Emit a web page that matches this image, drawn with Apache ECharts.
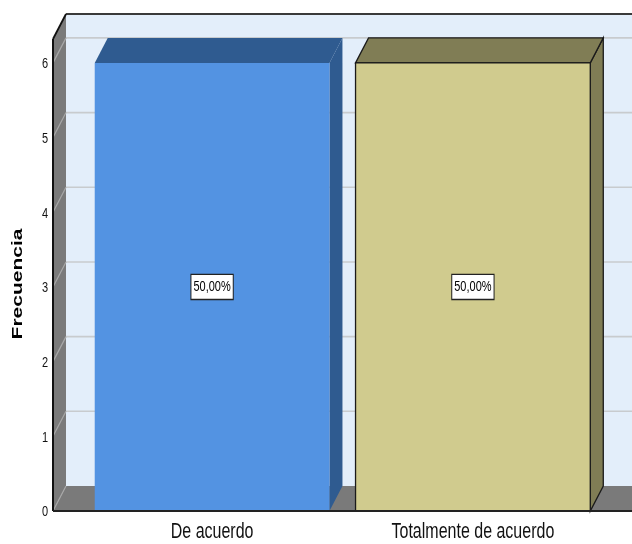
<!DOCTYPE html>
<html>
<head>
<meta charset="utf-8">
<script src="https://cdn.jsdelivr.net/npm/echarts@6/dist/echarts.min.js"></script>
<style>
  html, body { margin: 0; padding: 0; background: #ffffff; }
  #chart { width: 632px; height: 544px; }
</style>
</head>
<body>
<div id="chart"></div>
<script>
// ---- data ----
const categories = ['De acuerdo', 'Totalmente de acuerdo'];
const frequencies = [6, 6];
const percentLabels = ['50,00%', '50,00%'];
const yTicks = [0, 1, 2, 3, 4, 5, 6];
const yTitle = 'Frecuencia';

// ---- style ----
const FONT = '"Liberation Sans", Arial, sans-serif';
const STRETCH = 1.4;          // text is drawn vertically stretched
const DX = 13, DY = 25;       // 3D depth offset in pixels
const BAR_W = 0.9;            // bar width in category units
const frontColors = ['#5393e2', '#d0cb8e'];
const darkColors = ['#2f5b90', '#807d55'];
const outlineColors = ['rgba(0,0,0,0)', '#1a1a1a'];

const chart = echarts.init(document.getElementById('chart'), null, { renderer: 'canvas' });

function wallsRender(params, api) {
  const cs = params.coordSys;
  const L = cs.x, R = cs.x + cs.width + 20, T = cs.y, B = cs.y + cs.height;
  const children = [];
  children.push({ type: 'rect', shape: { x: L + DX, y: T - DY, width: R - L, height: B - T },
    style: { fill: '#e3eefa' } });
  children.push({ type: 'polygon', shape: { points: [[L, B], [L, T], [L + DX, T - DY], [L + DX, B - DY]] },
    style: { fill: '#7a7a7a' } });
  children.push({ type: 'polygon', shape: { points: [[L, B], [L + DX, B - DY], [R + DX, B - DY], [R + DX, B]] },
    style: { fill: '#7a7a7a' } });
  yTicks.forEach(function (v) {
    const y = api.coord([0, v])[1];
    if (v > 0) {
      children.push({ type: 'line', shape: { x1: L + DX, y1: y - DY, x2: R + DX, y2: y - DY },
        style: { stroke: '#c8cbce', lineWidth: 1.6 } });
    }
    children.push({ type: 'line', shape: { x1: L, y1: y, x2: L + DX, y2: y - DY },
      style: { stroke: '#a8a8a8', lineWidth: 1.2 } });
  });
  return { type: 'group', children: children };
}

function frameRender(params, api) {
  const cs = params.coordSys;
  const L = cs.x, R = cs.x + cs.width + 20, T = cs.y, B = cs.y + cs.height;
  return { type: 'group', children: [
    { type: 'line', shape: { x1: L + DX, y1: T - DY, x2: R + DX, y2: T - DY }, style: { stroke: '#3a3a3a', lineWidth: 2 } },
    { type: 'line', shape: { x1: L, y1: T, x2: L + DX, y2: T - DY }, style: { stroke: '#111', lineWidth: 1.8 } },
    { type: 'line', shape: { x1: L, y1: T, x2: L, y2: B }, style: { stroke: '#111', lineWidth: 2 } },
    { type: 'line', shape: { x1: L, y1: B, x2: R, y2: B }, style: { stroke: '#222', lineWidth: 2 } }
  ] };
}

function barRender(params, api) {
  const i = params.dataIndex;
  const x = api.value(0), v = api.value(1);
  const tl = api.coord([x - BAR_W / 2, v]);
  const br = api.coord([x + BAR_W / 2, 0]);
  const xl = tl[0], yt = tl[1], xr = br[0], yb = br[1];
  const outline = outlineColors[i];
  const lw = i === 0 ? 0 : 1.3;
  const mid = api.coord([x, v / 2]);
  const base = api.coord([x, 0]);
  return { type: 'group', children: [
    { type: 'polygon', shape: { points: [[xr, yt], [xr + DX, yt - DY], [xr + DX, yb - DY], [xr, yb]] },
      style: { fill: darkColors[i], stroke: outline, lineWidth: lw } },
    { type: 'polygon', shape: { points: [[xl, yt], [xl + DX, yt - DY], [xr + DX, yt - DY], [xr, yt]] },
      style: { fill: darkColors[i], stroke: outline, lineWidth: lw } },
    { type: 'rect', shape: { x: xl, y: yt, width: xr - xl, height: yb - yt },
      style: { fill: frontColors[i], stroke: outline, lineWidth: lw } },
    { type: 'text', x: mid[0], y: mid[1], scaleY: STRETCH,
      style: { text: percentLabels[i], x: 0, y: 0, align: 'center', verticalAlign: 'middle',
        font: '11px ' + FONT, fill: '#000', backgroundColor: '#ffffff', borderColor: '#222',
        borderWidth: 1, padding: [3, 2, 3, 2] } },
    { type: 'text', x: base[0], y: base[1] + 21, scaleY: STRETCH,
      style: { text: categories[i], x: 0, y: 0, align: 'center', verticalAlign: 'middle',
        font: '16px ' + FONT, fill: '#111' } }
  ] };
}

function tickRender(params, api) {
  const cs = params.coordSys;
  const v = api.value(1);
  const p = api.coord([0, v]);
  return { type: 'text', x: cs.x - 5, y: p[1] + 1, scaleY: STRETCH,
    style: { text: String(yTicks[params.dataIndex]), x: 0, y: 0, align: 'right', verticalAlign: 'middle',
      font: '11px ' + FONT, fill: '#111' } };
}

const option = {
  animation: false,
  backgroundColor: '#ffffff',
  grid: { left: 53, right: 0, top: 39, bottom: 33 },
  xAxis: { type: 'value', min: 0.39, max: 2.61, show: false },
  yAxis: { type: 'value', min: 0, max: 6.32, show: false },
  graphic: [{
    type: 'text', x: 18, y: 284, rotation: Math.PI / 2, scaleX: STRETCH,
    style: { text: yTitle, x: 0, y: 0, align: 'center', verticalAlign: 'middle',
      font: 'bold 15px ' + FONT, fill: '#000' }
  }],
  series: [
    { type: 'custom', z: 1, clip: false, renderItem: wallsRender, data: [[1, 0]], silent: true },
    { type: 'custom', z: 2, clip: false, renderItem: barRender,
      data: categories.map(function (c, i) { return [i + 1, frequencies[i]]; }) },
    { type: 'custom', z: 3, clip: false, renderItem: frameRender, data: [[1, 0]], silent: true },
    { type: 'custom', z: 3, clip: false, renderItem: tickRender,
      data: yTicks.map(function (v) { return [0.39, v]; }) }
  ]
};
chart.setOption(option);
</script>
</body>
</html>
